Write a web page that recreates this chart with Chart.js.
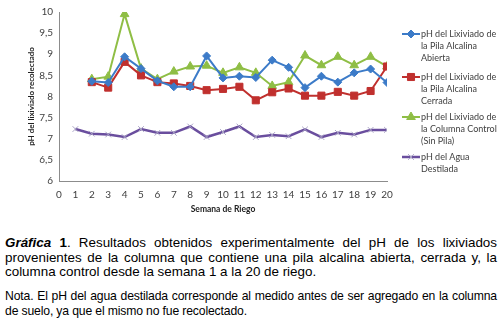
<!DOCTYPE html>
<html>
<head>
<meta charset="utf-8">
<script src="https://cdn.jsdelivr.net/npm/chart.js@4.4.1/dist/chart.umd.min.js"></script>
<style>
    body { margin: 0; background: #fff; width: 502px; height: 321px; overflow: hidden; }
    #wrap { position: absolute; left: 0; top: 0; width: 502px; height: 222px; }
    .cap { position: absolute; left: 5px; width: 492px; font-family: "Liberation Sans", Arial, sans-serif; color: #000; }
    .cap div { text-align: justify; text-align-last: justify; white-space: nowrap; }
    .cap div.last { text-align-last: left; }
    #caption { top: 236px; font-size: 13.4px; line-height: 14.6px; }
    #nota { top: 289px; font-size: 12.2px; line-height: 15px; letter-spacing: -0.15px; }
</style>
</head>
<body>
<div id="wrap"><canvas id="phChart"></canvas></div>
<div id="caption" class="cap">
    <div><b><i>Gráfica</i> 1</b>. Resultados obtenidos experimentalmente del pH de los lixiviados</div>
    <div>provenientes de la columna que contiene una pila alcalina abierta, cerrada y, la</div>
    <div class="last">columna control desde la semana 1 a la 20 de riego.</div>
</div>
<div id="nota" class="cap">
    <div>Nota. El pH del agua destilada corresponde al medido antes de ser agregado en la columna</div>
    <div class="last">de suelo, ya que el mismo no fue recolectado.</div>
</div>
<script>
// semanas de riego
const weeks = [1, 2, 3, 4, 5, 6, 7, 8, 9, 10, 11, 12, 13, 14, 15, 16, 17, 18, 19, 20];

// pH (semana 1 sin dato para las columnas)
const pilaAbierta = [null, 8.36, 8.33, 8.94, 8.66, 8.37, 8.23, 8.23, 8.96, 8.44, 8.48, 8.45, 8.86, 8.69, 8.21, 8.48, 8.34, 8.56, 8.65, 8.33];
const pilaCerrada = [null, 8.34, 8.21, 8.82, 8.50, 8.34, 8.31, 8.25, 8.15, 8.18, 8.23, 7.91, 8.10, 8.19, 8.02, 8.02, 8.11, 8.02, 8.13, 8.71];
const columnaControl = [null, 8.41, 8.47, 9.95, 8.66, 8.41, 8.59, 8.71, 8.73, 8.56, 8.69, 8.56, 8.25, 8.34, 8.97, 8.74, 8.94, 8.74, 8.94, 8.71];
const aguaDestilada = [7.23, 7.12, 7.10, 7.04, 7.23, 7.14, 7.14, 7.29, 7.04, 7.16, 7.29, 7.04, 7.09, 7.06, 7.22, 7.04, 7.14, 7.10, 7.21, 7.21];

const seriesNames = [
    ['pH del Lixiviado de', 'la Pila Alcalina', 'Abierta'],
    ['pH del Lixiviado de', 'la Pila Alcalina', 'Cerrada'],
    ['pH del Lixiviado de', 'la Columna Control', '(Sin Pila)'],
    ['pH del Agua', 'Destilada']
];

const yTicks = [6, 6.5, 7, 7.5, 8, 8.5, 9, 9.5, 10];

function toPoints(values) {
    const pts = [];
    for (let i = 0; i < weeks.length; i++) {
        if (values[i] !== null) {
            pts.push({ x: weeks[i], y: values[i] });
        }
    }
    return pts;
}

// leyenda a la derecha, con textos en varias lineas
const sideLegend = {
    id: 'sideLegend',
    afterDraw(chart) {
        const ctx = chart.ctx;
        const tops = [34, 77, 117, 157];
        ctx.save();
        chart.data.datasets.forEach(function (ds, i) {
            const y = tops[i];
            ctx.strokeStyle = ds.borderColor;
            ctx.lineWidth = ds.borderWidth;
            ctx.beginPath();
            ctx.moveTo(402, y);
            ctx.lineTo(420, y);
            ctx.stroke();

            if (Chart.helpers && Chart.helpers.drawPoint) {
                ctx.fillStyle = ds.pointBackgroundColor;
                ctx.strokeStyle = ds.pointBorderColor;
                ctx.lineWidth = ds.pointBorderWidth;
                Chart.helpers.drawPoint(ctx, {
                    pointStyle: ds.pointStyle,
                    radius: ds.pointRadius,
                    rotation: 0,
                    borderWidth: ds.pointBorderWidth
                }, 411, y);
            }

            ctx.fillStyle = '#404040';
            ctx.font = '9px Lato, "Open Sans", sans-serif';
            ctx.textBaseline = 'middle';
            ctx.textAlign = 'left';
            seriesNames[i].forEach(function (line, j) {
                ctx.fillText(line, 421, y + j * 12);
            });
        });
        ctx.restore();
    }
};

const ctx = document.getElementById('phChart').getContext('2d');
new Chart(ctx, {
    type: 'line',
    data: {
        datasets: [{
            label: seriesNames[0].join(' '),
            data: toPoints(pilaAbierta),
            borderColor: '#3C7BC8',
            borderWidth: 2,
            pointStyle: 'rectRot',
            pointRadius: 4,
            pointBackgroundColor: '#3C7BC8',
            pointBorderColor: '#3C7BC8',
            pointBorderWidth: 1
        }, {
            label: seriesNames[1].join(' '),
            data: toPoints(pilaCerrada),
            borderColor: '#C0302E',
            borderWidth: 2,
            pointStyle: 'rect',
            pointRadius: 5,
            pointBackgroundColor: '#C0302E',
            pointBorderColor: '#C0302E',
            pointBorderWidth: 1
        }, {
            label: seriesNames[2].join(' '),
            data: toPoints(columnaControl),
            borderColor: '#8FBE45',
            borderWidth: 2,
            pointStyle: 'triangle',
            pointRadius: 5,
            pointBackgroundColor: '#8FBE45',
            pointBorderColor: '#8FBE45',
            pointBorderWidth: 1
        }, {
            label: seriesNames[3].join(' '),
            data: toPoints(aguaDestilada),
            borderColor: '#6A4E9E',
            borderWidth: 2.5,
            pointStyle: 'crossRot',
            pointRadius: 4,
            pointBackgroundColor: '#A8A2C4',
            pointBorderColor: '#A8A2C4',
            pointBorderWidth: 1
        }]
    },
    options: {
        responsive: true,
        maintainAspectRatio: false,
        animation: false,
        layout: { padding: { left: 20, right: 115, top: 8, bottom: 8 } },
        plugins: {
            legend: { display: false },
            tooltip: { enabled: false }
        },
        scales: {
            x: {
                type: 'linear',
                min: 0,
                max: 20,
                grid: { display: false, drawTicks: false },
                border: { display: true, color: '#8C8C8C', width: 1 },
                ticks: {
                    stepSize: 1,
                    autoSkip: false,
                    maxRotation: 0,
                    padding: 8,
                    color: '#404040',
                    font: { family: 'Lato, "Open Sans", sans-serif', size: 10 }
                },
                title: {
                    display: true,
                    text: 'Semana de Riego',
                    color: '#222',
                    padding: { top: 2, bottom: 0 },
                    font: { family: 'Lato, "Open Sans", sans-serif', size: 8.5, weight: 'bold' }
                },
                afterFit: function (scale) { scale.height = 33; }
            },
            y: {
                min: 6,
                max: 10,
                grid: { display: false, drawTicks: false },
                border: { display: true, color: '#8C8C8C', width: 1 },
                afterBuildTicks: function (scale) {
                    scale.ticks = yTicks.map(function (v) { return { value: v }; });
                },
                ticks: {
                    padding: 6,
                    color: '#404040',
                    font: { family: 'Lato, "Open Sans", sans-serif', size: 10 },
                    callback: function (value) { return String(value).replace('.', ','); }
                },
                title: {
                    display: true,
                    text: 'pH del lixiviado recolectado',
                    color: '#222',
                    padding: { top: 7, bottom: 4 },
                    font: { family: 'Lato, "Open Sans", sans-serif', size: 8, weight: 'bold' }
                },
                afterFit: function (scale) { scale.width = 39; }
            }
        }
    },
    plugins: [sideLegend]
});
</script>
</body>
</html>
